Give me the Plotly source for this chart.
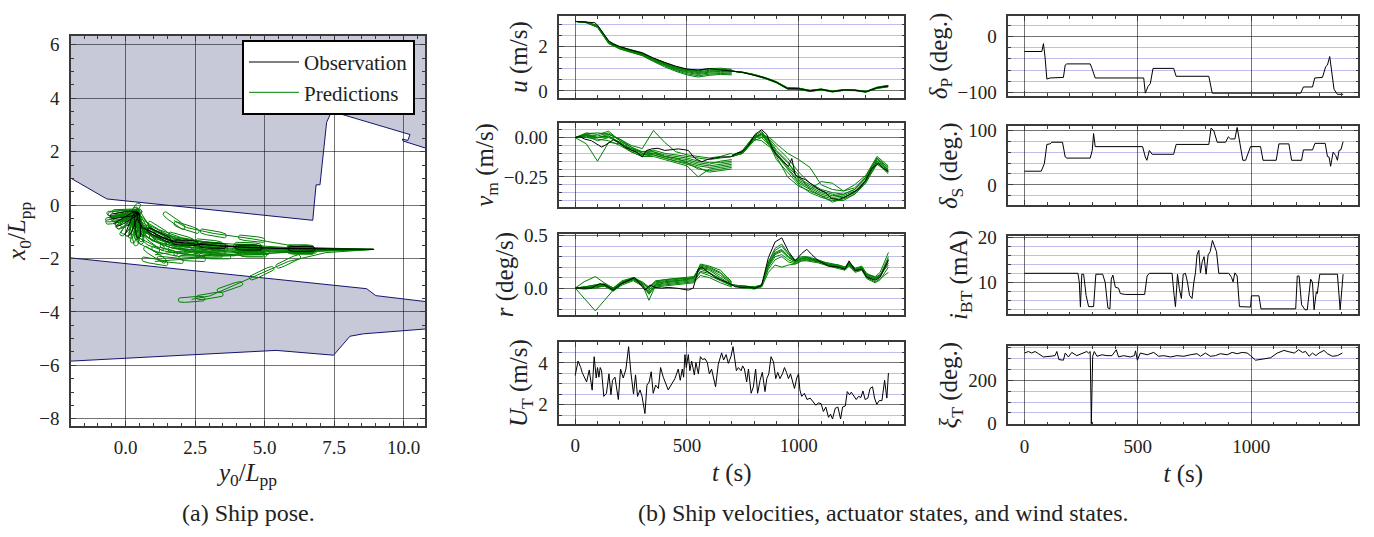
import numpy as np
import plotly.graph_objects as go

W, H = 1374, 537
FONT = "Liberation Serif"
GREEN = "#008000"
BLACK = "#000000"
FILL = "rgba(20,30,90,0.24)"
EDGE = "#14146e"
MAJOR_GRID = "rgba(0,0,0,0.55)"
MINOR_GRID = "rgba(70,70,200,0.35)"
AXIS_LINE = "#3a3a3a"
TEXT = "#222222"

# ---------------- (a) ship pose data (y0/Lpp, x0/Lpp) ----------------
quay_north_y0 = [-2.5, -0.68, 6.73, 6.85, 6.99, 7.23, 7.41, 10.23, 10.15, 9.96, 9.98, 11.5]
quay_north_x0 = [1.32, 0.23, -0.57, 0.76, 0.76, 3.10, 3.51, 2.64, 2.42, 2.47, 2.40, 1.90]
quay_south_top_y0 = [-2.5, 8.67, 9.0, 11.5]
quay_south_top_x0 = [-1.92, -3.13, -3.39, -3.70]
quay_south_bottom_y0 = [-2.5, 5.41, 7.48, 8.07, 8.55, 11.5]
quay_south_bottom_x0 = [-5.87, -5.44, -5.62, -4.91, -4.82, -4.58]

obs_track_y0 = [8.94, 7.5, 6.5, 5.5, 4.5, 3.5, 2.5, 1.71, 1.3, 0.94, 0.6, 0.45, 0.40]
obs_track_x0 = [-1.66, -1.65, -1.64, -1.62, -1.59, -1.54, -1.46, -1.37, -1.2, -1.0, -0.85, -0.6, -0.30]
obs_hull_y0 = [6.33, 4.43, 3.13, 2.13, 1.20, 0.43, 0.22, 0.04, -0.08]
obs_hull_x0 = [-1.64, -1.59, -1.52, -1.41, -1.12, -0.75, -0.72, -0.51, -0.36]
obs_hull_angle = [179, 178, 177, 176, 152, 93, 67, 30, 7]

# predicted pose runs: (y0, x0, hull angle in plot degrees or None for path-only point)
pred_a = [(8.9, -1.66, None), (6.3, -1.58, 178), (4.53, -1.26, 172), (3.15, -1.06, 168), (2.19, -0.84, 160), (1.74, -0.58, 142)]
pred_b = [(8.9, -1.66, None), (7.2, -1.78, None), (5.85, -2.11, 25), (4.89, -2.55, 25), (3.75, -3.07, 18), (3.03, -3.40, 8), (2.37, -3.53, 3)]
pred_c = [(8.9, -1.66, None), (6.3, -1.75, 178), (4.5, -1.82, 178), (3.0, -1.88, 177), (2.39, -2.0, 175), (1.6, -2.05, 172), (1.05, -2.11, 168)]
pred_d = [(8.9, -1.66, None), (6.3, -1.70, 179), (4.4, -1.74, 177), (3.1, -1.76, 176), (2.0, -1.72, 172), (1.05, -1.86, 145)]
pred_e = [(8.9, -1.66, None), (6.3, -1.66, 179), (4.4, -1.64, 178), (3.1, -1.58, 176), (2.0, -1.45, 170), (1.1, -1.12, 150), (0.5, -0.7, 110), (0.2, -0.5, 40)]
pred_f = [(8.9, -1.66, None), (6.35, -1.68, 180), (4.5, -1.66, 178), (3.2, -1.63, 177), (2.2, -1.56, 174), (1.3, -1.32, 160), (0.7, -0.98, 135), (0.3, -0.65, 75), (0.0, -0.45, 20)]
pred_g = [(8.9, -1.66, None), (6.3, -1.62, 179), (4.4, -1.50, 176), (3.0, -1.40, 172), (2.0, -1.22, 162), (1.2, -0.92, 145), (0.6, -0.55, 120), (0.1, -0.3, 10)]
pred_h = [(8.9, -1.66, None), (6.3, -1.72, 178), (4.6, -1.85, 178), (3.3, -1.92, 178), (2.2, -1.86, 174), (1.4, -1.72, 165), (0.8, -1.5, 150), (0.3, -1.05, 100)]
pred_i = [(8.9, -1.66, None), (6.3, -1.64, 180), (4.5, -1.60, 178), (3.2, -1.50, 175), (2.3, -1.40, 170), (1.5, -1.20, 158), (0.8, -0.85, 125), (0.35, -0.55, 88), (-0.1, -0.42, 8)]
pred_j = [(8.9, -1.66, None), (6.2, -1.69, 179), (4.3, -1.70, 178), (2.9, -1.66, 176), (1.9, -1.55, 168), (1.05, -1.25, 150), (0.5, -0.9, 100), (0.1, -0.62, 30), (-0.25, -0.55, 12)]
pred_k = [(8.9, -1.66, None), (6.4, -1.71, 179), (4.7, -1.76, 178), (3.5, -1.80, 177), (2.6, -1.78, 174), (1.7, -1.62, 165), (1.0, -1.35, 140), (0.45, -1.0, 105), (0.1, -0.75, 55)]
pred_l = [(8.9, -1.66, None), (6.25, -1.63, 180), (4.35, -1.56, 177), (2.95, -1.47, 173), (1.95, -1.32, 165), (1.15, -1.02, 150), (0.55, -0.62, 115), (0.25, -0.35, 60), (-0.2, -0.3, 2)]
pred_runs = [pred_a, pred_b, pred_c, pred_d, pred_e, pred_f, pred_g, pred_h, pred_i, pred_j, pred_k, pred_l]
fan_y0 = [-0.15, -0.05, 0.05, 0.15, 0.28, 0.40, 0.50, -0.25, 0.0, 0.32]
fan_x0 = [-0.30, -0.42, -0.58, -0.68, -0.78, -0.82, -0.70, -0.48, -0.25, -0.95]
fan_angle = [5, 18, 35, 55, 75, 90, 100, 10, 0, 80]

# ---------------- (b) time series ----------------
u_obs_t = [0, 50, 88, 100, 125, 150, 170, 200, 250, 300, 350, 400, 450, 500, 550, 600, 650, 700,
           750, 800, 850, 900, 950, 1000, 1050, 1100, 1150, 1200, 1250, 1300, 1350, 1400]
u_obs = [3.12, 3.09, 3.06, 2.95, 2.59, 2.25, 2.09, 1.99, 1.83, 1.70, 1.47, 1.28, 1.11, 0.98, 0.94, 1.0, 0.96, 0.89,
         0.83, 0.72, 0.58, 0.39, 0.10, 0.10, 0.0, 0.07, -0.03, 0.04, 0.03, -0.04, 0.14, 0.22]
t_pred_a = [0, 50, 100, 150, 200, 250, 300, 350, 400, 450, 500, 550, 600, 650, 700]
t_pred_b = [700, 750, 800, 850, 900, 950, 1000, 1050, 1100, 1150, 1200, 1250, 1300, 1350, 1400]
u_pred_a = [
    [3.12, 3.09, 2.92, 2.20, 1.94, 1.80, 1.66, 1.42, 1.22, 1.04, 0.92, 0.86, 0.92, 0.93, 0.90],
    [3.12, 3.07, 2.88, 2.16, 1.90, 1.76, 1.62, 1.37, 1.15, 0.96, 0.82, 0.74, 0.80, 0.82, 0.80],
    [3.12, 3.08, 2.90, 2.20, 1.96, 1.84, 1.70, 1.45, 1.24, 1.06, 0.94, 0.90, 0.97, 0.98, 0.94],
    [3.12, 3.06, 2.85, 2.12, 1.88, 1.74, 1.58, 1.32, 1.08, 0.88, 0.72, 0.62, 0.70, 0.74, 0.72],
    [3.12, 3.09, 2.94, 2.24, 1.98, 1.85, 1.72, 1.47, 1.26, 1.08, 0.97, 0.93, 1.00, 1.02, 0.97],
    [3.12, 3.07, 2.87, 2.14, 1.92, 1.78, 1.64, 1.40, 1.18, 0.98, 0.86, 0.78, 0.84, 0.88, 0.84],
    [3.12, 3.08, 2.89, 2.18, 1.93, 1.79, 1.65, 1.41, 1.20, 1.01, 0.90, 0.82, 0.88, 0.90, 0.87],
    [3.12, 3.06, 2.86, 2.14, 1.89, 1.75, 1.60, 1.34, 1.12, 0.92, 0.77, 0.68, 0.75, 0.78, 0.76],
]
u_pred_b = [
    [0.89, 0.84, 0.74, 0.60, 0.42, 0.13, 0.12, 0.03, 0.08, 0.0, 0.05, 0.05, -0.02, 0.16, 0.24],
    [0.89, 0.82, 0.71, 0.56, 0.37, 0.08, 0.08, -0.02, 0.05, -0.05, 0.02, 0.01, -0.06, 0.12, 0.19],
    [0.89, 0.83, 0.73, 0.59, 0.40, 0.15, 0.13, 0.02, 0.09, -0.01, 0.06, 0.04, -0.03, 0.17, 0.25],
    [0.89, 0.82, 0.70, 0.55, 0.36, 0.09, 0.07, -0.03, 0.04, -0.04, 0.02, 0.02, -0.05, 0.11, 0.18],
    [0.89, 0.84, 0.73, 0.58, 0.38, 0.12, 0.11, 0.01, 0.07, -0.02, 0.04, 0.03, -0.04, 0.14, 0.21],
    [0.89, 0.83, 0.72, 0.57, 0.39, 0.11, 0.09, 0.0, 0.06, -0.03, 0.03, 0.03, -0.04, 0.13, 0.20],
]

vm_obs_t = [0, 21, 43, 73, 103, 118, 133, 148, 170, 193, 222, 252, 275, 300, 319, 342, 370, 401, 431, 461,
            491, 506, 536, 566, 596, 625, 655, 695, 722, 745, 775, 804, 834, 857, 879, 901, 931, 954, 969, 984,
            1006, 1028, 1058, 1088, 1118, 1148, 1178, 1207, 1237, 1267, 1297, 1327, 1357, 1379, 1401]
vm_obs = [0.0, 0.006, -0.01, -0.02, -0.047, -0.06, -0.05, -0.035, -0.014, -0.03, -0.06, -0.08, -0.092, -0.123, -0.082,
          -0.072, -0.068, -0.082, -0.076, -0.072, -0.078, -0.082, -0.133, -0.154, -0.137, -0.129, -0.123, -0.123, -0.1,
          -0.092, -0.05, 0.02, 0.05, 0.02, -0.06, -0.113, -0.154, -0.184, -0.133, -0.236, -0.256, -0.266, -0.297,
          -0.328, -0.348, -0.389, -0.395, -0.379, -0.354, -0.328, -0.277, -0.195, -0.164, -0.195, -0.215]
vm_pred_a = [
    [0.0, 0.02, 0.01, 0.03, -0.02, -0.07, -0.10, -0.09, -0.11, -0.12, -0.13, -0.15, -0.16, -0.16, -0.15],
    [0.0, 0.01, -0.02, 0.0, -0.03, -0.08, -0.11, -0.10, -0.12, -0.14, -0.15, -0.17, -0.18, -0.17, -0.16],
    [0.0, -0.04, -0.15, -0.03, -0.04, -0.07, -0.09, -0.08, -0.10, -0.11, -0.12, -0.13, -0.14, -0.13, -0.12],
    [0.0, 0.02, 0.0, 0.02, -0.01, -0.05, -0.07, 0.045, -0.03, -0.09, -0.11, -0.12, -0.13, -0.12, -0.10],
    [0.0, 0.0, -0.01, -0.02, -0.05, -0.09, -0.12, -0.12, -0.14, -0.16, -0.18, -0.25, -0.20, -0.19, -0.18],
    [0.0, 0.03, 0.02, 0.04, -0.02, -0.06, -0.10, -0.11, -0.13, -0.15, -0.17, -0.19, -0.22, -0.21, -0.20],
    [0.0, 0.015, 0.0, 0.01, -0.03, -0.08, -0.11, -0.10, -0.12, -0.13, -0.14, -0.16, -0.17, -0.15, -0.14],
    [0.0, 0.025, 0.03, 0.02, -0.01, -0.06, -0.09, -0.09, -0.12, -0.13, -0.16, -0.18, -0.19, -0.18, -0.17],
    [0.0, 0.01, 0.0, 0.01, -0.04, -0.09, -0.12, -0.11, -0.13, -0.15, -0.16, -0.20, -0.21, -0.20, -0.19],
]
t_vm_pred_b = [700, 750, 800, 834, 870, 900, 950, 1000, 1050, 1100, 1150, 1200, 1250, 1300, 1350, 1400]
vm_pred_b = [
    [-0.12, -0.09, 0.0, 0.03, -0.02, -0.08, -0.15, -0.27, -0.31, -0.35, -0.37, -0.36, -0.33, -0.26, -0.15, -0.20],
    [-0.12, -0.08, 0.01, 0.02, 0.0, -0.04, -0.10, -0.14, -0.19, -0.30, -0.33, -0.34, -0.30, -0.24, -0.12, -0.18],
    [-0.12, -0.10, -0.02, 0.0, -0.05, -0.14, -0.22, -0.30, -0.35, -0.38, -0.40, -0.40, -0.36, -0.28, -0.17, -0.22],
    [-0.11, -0.09, -0.01, -0.02, -0.06, -0.10, -0.18, -0.26, -0.30, -0.34, -0.36, -0.38, -0.35, -0.27, -0.14, -0.19],
    [-0.12, -0.09, 0.01, 0.04, -0.03, -0.09, -0.16, -0.24, -0.33, -0.28, -0.29, -0.34, -0.32, -0.25, -0.13, -0.21],
    [-0.12, -0.10, -0.01, 0.02, -0.05, -0.12, -0.25, -0.31, -0.34, -0.37, -0.41, -0.39, -0.36, -0.29, -0.16, -0.23],
    [-0.12, -0.09, 0.0, 0.02, -0.04, -0.10, -0.19, -0.28, -0.32, -0.36, -0.38, -0.37, -0.34, -0.27, -0.15, -0.21],
    [-0.12, -0.08, 0.01, 0.01, -0.01, -0.06, -0.13, -0.22, -0.29, -0.33, -0.35, -0.36, -0.33, -0.25, -0.13, -0.19],
    [-0.12, -0.10, -0.01, 0.03, -0.04, -0.11, -0.20, -0.29, -0.33, -0.37, -0.39, -0.38, -0.35, -0.28, -0.16, -0.22],
]

r_obs_t = [0, 73, 110, 133, 170, 207, 267, 290, 312, 334, 357, 387, 416, 461, 506, 528, 551, 566, 596, 625,
           655, 686, 716, 745, 775, 804, 834, 864, 894, 924, 954, 984, 1013, 1036, 1058, 1088, 1133, 1178, 1207, 1225,
           1252, 1282, 1304, 1342, 1364, 1401]
r_obs = [0, 0, 0.043, 0.03, -0.02, 0.043, 0.1, 0.043, -0.02, 0.03, 0.006, 0.0, 0.006, -0.003, -0.02, 0.0, 0.18, 0.2,
         0.15, 0.104, 0.074, 0.05, 0.012, 0.006, 0.012, -0.003, 0.028, 0.29, 0.44, 0.48, 0.35, 0.26, 0.33, 0.37, 0.32,
         0.26, 0.21, 0.2, 0.18, 0.26, 0.166, 0.18, 0.104, 0.074, 0.104, 0.27]
t_r_pred_a = [0, 40, 90, 130, 170, 210, 260, 300, 330, 360, 400, 450, 500, 530, 560, 600, 650, 700]
r_pred_a = [
    [0, -0.10, -0.218, -0.12, -0.02, 0.04, 0.09, 0.03, -0.05, 0.04, 0.06, 0.07, 0.08, 0.10, 0.22, 0.20, 0.15, 0.05],
    [0, 0.06, 0.11, 0.05, 0.0, 0.05, 0.10, 0.04, -0.117, 0.03, 0.05, 0.06, 0.07, 0.08, 0.23, 0.21, 0.17, 0.06],
    [0, 0.01, 0.03, 0.03, -0.01, 0.06, 0.09, 0.05, 0.0, 0.06, 0.07, 0.08, 0.09, 0.10, 0.18, 0.15, 0.08, 0.03],
    [0, -0.01, 0.0, 0.02, -0.02, 0.05, 0.08, 0.03, -0.06, 0.02, 0.03, 0.04, 0.05, 0.06, 0.15, 0.12, 0.07, 0.02],
    [0, 0.0, 0.02, 0.04, 0.0, 0.07, 0.10, 0.06, 0.01, 0.07, 0.08, 0.09, 0.10, 0.11, 0.20, 0.18, 0.12, 0.04],
    [0, 0.01, 0.01, 0.02, -0.03, 0.03, 0.07, 0.02, -0.03, 0.01, 0.02, 0.03, 0.04, 0.05, 0.12, 0.10, 0.05, 0.01],
    [0, 0.005, 0.02, 0.03, -0.01, 0.05, 0.09, 0.04, -0.02, 0.05, 0.06, 0.07, 0.08, 0.09, 0.19, 0.17, 0.10, 0.03],
    [0, -0.005, 0.01, 0.02, -0.02, 0.04, 0.08, 0.03, -0.04, 0.03, 0.04, 0.05, 0.06, 0.07, 0.16, 0.14, 0.09, 0.02],
    [0, 0.01, 0.03, 0.04, 0.0, 0.06, 0.10, 0.05, 0.0, 0.06, 0.08, 0.09, 0.09, 0.10, 0.21, 0.19, 0.14, 0.04],
]
t_r_pred_b = [700, 750, 800, 834, 864, 894, 924, 954, 984, 1013, 1036, 1058, 1088, 1133, 1178, 1207, 1225, 1252,
              1282, 1304, 1342, 1364, 1401]
r_pred_b = [
    [0.03, 0.01, 0.0, 0.02, 0.25, 0.38, 0.42, 0.33, 0.27, 0.3, 0.3, 0.29, 0.27, 0.23, 0.21, 0.19, 0.24, 0.17, 0.19, 0.12, 0.09, 0.12, 0.3],
    [0.03, 0.02, 0.01, 0.03, 0.2, 0.3, 0.32, 0.27, 0.24, 0.27, 0.27, 0.26, 0.25, 0.22, 0.2, 0.19, 0.23, 0.18, 0.2, 0.14, 0.1, 0.13, 0.22],
    [0.03, 0.01, -0.01, 0.01, 0.15, 0.22, 0.2, 0.22, 0.23, 0.26, 0.27, 0.27, 0.26, 0.24, 0.22, 0.2, 0.25, 0.19, 0.21, 0.13, 0.11, 0.15, 0.34],
    [0.03, 0.0, 0.0, 0.02, 0.22, 0.34, 0.37, 0.3, 0.25, 0.28, 0.29, 0.28, 0.26, 0.22, 0.21, 0.18, 0.22, 0.16, 0.18, 0.1, 0.06, 0.09, 0.15],
    [0.03, 0.01, 0.0, 0.03, 0.18, 0.27, 0.3, 0.25, 0.23, 0.26, 0.26, 0.25, 0.24, 0.21, 0.19, 0.17, 0.21, 0.15, 0.17, 0.09, 0.05, 0.08, 0.2],
    [0.03, 0.02, 0.01, 0.02, 0.24, 0.36, 0.4, 0.32, 0.26, 0.29, 0.29, 0.28, 0.26, 0.23, 0.22, 0.2, 0.24, 0.18, 0.2, 0.13, 0.1, 0.12, 0.26],
    [0.03, 0.01, 0.0, 0.02, 0.21, 0.32, 0.35, 0.29, 0.25, 0.28, 0.28, 0.27, 0.25, 0.22, 0.2, 0.18, 0.23, 0.17, 0.19, 0.11, 0.08, 0.11, 0.24],
    [0.03, 0.02, 0.01, 0.03, 0.23, 0.33, 0.36, 0.3, 0.26, 0.28, 0.29, 0.28, 0.26, 0.23, 0.21, 0.19, 0.24, 0.17, 0.19, 0.12, 0.09, 0.11, 0.28],
]

ut_t = [0, 13, 25, 31, 51, 63, 76, 85, 94, 100, 106, 112, 118, 128, 140, 151, 160, 167, 178, 193,
        203, 215, 227, 239, 249, 261, 270, 279, 290, 299, 312, 321, 331, 340, 349, 360, 372, 382, 394, 416,
        446, 461, 470, 479, 485, 491, 497, 506, 513, 521, 533, 540, 551, 560, 569, 581, 591, 600, 610, 628,
        640, 655, 664, 675, 685, 697, 706, 721, 730, 742, 749, 757, 767, 775, 787, 797, 807, 816, 827, 837,
        849, 857, 866, 876, 887, 897, 906, 916, 927, 936, 945, 954, 963, 973, 981, 991, 999, 1005, 1013, 1025,
        1037, 1051, 1066, 1076, 1088, 1100, 1110, 1121, 1133, 1142, 1151, 1163, 1175, 1187, 1196, 1208, 1217, 1227, 1235, 1248,
        1257, 1267, 1278, 1287, 1297, 1309, 1319, 1330, 1339, 1349, 1360, 1372, 1384, 1394, 1401]
ut = [3.4, 4.09, 3.78, 3.55, 3.09, 3.66, 2.7, 4.3, 3.28, 3.78, 3.32, 3.78, 3.63, 2.4, 2.55, 3.48, 2.48, 3.17, 3.32, 2.25,
      3.71, 3.28, 3.71, 4.78, 3.55, 2.51, 3.43, 2.4, 2.71, 2.4, 1.58, 2.94, 3.09, 3.58, 2.55, 2.94, 2.78, 3.78, 3.32, 2.71,
      3.25, 3.71, 3.17, 3.71, 3.32, 4.4, 3.78, 4.4, 3.63, 4.09, 3.43, 4.02, 3.48, 4.3, 4.17, 4.2, 4.02, 3.48, 3.71, 2.86,
      3.94, 4.48, 4.14, 4.4, 3.98, 4.32, 4.78, 3.63, 3.78, 3.63, 3.86, 3.71, 3.09, 3.71, 2.55, 2.86, 3.71, 2.55, 3.17, 3.55,
      2.63, 3.25, 3.48, 4.3, 4.05, 3.25, 3.55, 3.25, 3.48, 3.78, 3.55, 3.25, 3.48, 3.09, 2.78, 3.28, 3.48, 2.71, 2.4, 2.55,
      2.25, 2.32, 2.09, 1.98, 2.09, 2.05, 1.68, 1.89, 1.4, 1.55, 1.32, 1.83, 1.89, 1.32, 1.89, 1.94, 2.63, 2.48, 2.6, 2.4,
      2.25, 2.4, 2.35, 2.66, 2.25, 2.32, 2.78, 2.86, 2.32, 2.02, 2.2, 2.2, 3.17, 2.32, 3.52]

dp_t = [0, 77, 84, 91, 99, 113, 172, 180, 187, 290, 298, 312, 526, 533, 545, 555, 567, 658, 669, 813,
        828, 1218, 1230, 1270, 1280, 1314, 1328, 1336, 1346, 1358, 1365, 1380, 1405]
dp = [-27, -27, -13, -37, -76, -74, -73, -51, -49, -49, -57, -74, -74, -101, -89, -84, -57, -57, -71, -71,
      -101, -101, -90, -90, -74, -73, -54, -51, -36, -77, -94, -103, -103]

ds_t = [0, 74, 88, 99, 113, 121, 168, 180, 187, 290, 299, 305, 312, 521, 533, 540, 551, 563, 658, 669,
        813, 823, 835, 850, 887, 899, 909, 928, 938, 948, 963, 975, 997, 1041, 1052, 1110, 1122, 1166, 1178, 1222,
        1230, 1270, 1281, 1326, 1336, 1343, 1350, 1361, 1372, 1380, 1387, 1395, 1405]
ds = [25, 25, 39, 74, 75, 78, 78, 51, 49, 49, 63, 94, 70, 70, 51, 45, 63, 56, 56, 74,
      74, 104, 99, 78, 78, 88, 84, 84, 105, 79, 45, 45, 70, 70, 45, 45, 75, 75, 45, 45,
      64, 64, 76, 76, 52, 51, 34, 60, 54, 45, 63, 64, 79]

ibt_t = [0, 236, 242, 247, 253, 261, 272, 283, 305, 315, 345, 356, 368, 377, 383, 390, 401, 415, 423, 445,
         530, 541, 551, 651, 660, 666, 675, 683, 692, 700, 710, 719, 728, 739, 747, 754, 761, 769, 776, 784,
         792, 801, 810, 819, 829, 838, 847, 857, 901, 913, 920, 928, 938, 948, 982, 997, 1001, 1034, 1043, 1196,
         1203, 1211, 1222, 1237, 1247, 1262, 1270, 1277, 1287, 1291, 1302, 1380, 1392, 1405]
ibt = [12, 12, 10, 4.5, 11.8, 11.8, 7.1, 4.6, 4.6, 11.8, 11.8, 10, 4.3, 4.1, 10.7, 11.6, 8.9, 8.7, 7.5, 7.3,
       7.3, 11.4, 12, 12, 7.1, 4.6, 11.8, 8.6, 6.4, 11.8, 12, 10, 7.1, 6.4, 10, 12.1, 16.1, 17.1, 12.1, 14.6,
       15.7, 11.8, 16.1, 16.8, 19.3, 18.2, 16.8, 12, 12, 11.1, 10.1, 12.1, 11.4, 4.6, 4.5, 4.5, 7, 7, 4.1, 4.1,
       11.4, 11.4, 5, 3.9, 3.9, 10.7, 10, 3.9, 7.9, 7.5, 11.8, 11.8, 3.9, 11.8]

xi_t = [0, 18, 32, 47, 62, 84, 113, 135, 143, 152, 172, 180, 194, 209, 231, 253, 275, 283, 290, 295,
        301, 308, 320, 342, 364, 386, 405, 415, 437, 467, 485, 490, 498, 511, 541, 570, 592, 614, 644, 673,
        703, 732, 761, 776, 798, 820, 842, 864, 894, 916, 938, 960, 982, 997, 1019, 1056, 1085, 1115, 1144, 1166,
        1190, 1209, 1226, 1240, 1255, 1270, 1285, 1299, 1321, 1336, 1358, 1380, 1402]
xi = [326, 333, 326, 333, 323, 308, 311, 314, 333, 296, 293, 326, 308, 329, 314, 323, 333, 326, 333, 0,
      311, 333, 311, 318, 314, 314, 341, 308, 314, 308, 314, 336, 293, 326, 318, 329, 311, 314, 308, 314,
      311, 318, 323, 311, 326, 311, 314, 323, 318, 329, 323, 329, 326, 314, 293, 299, 304, 326, 338, 332,
      326, 341, 329, 333, 311, 326, 314, 326, 338, 323, 311, 314, 326]


# ---------------- helpers ----------------
def dom_y(top_px, bottom_px):
    return [1 - bottom_px / H, 1 - top_px / H]


def dom_x(left_px, right_px):
    return [left_px / W, right_px / W]


def hull_outline(cy, cx, ang_deg, length=0.95, beam=0.2, n=40):
    t = np.linspace(0, 2 * np.pi, n + 1)
    c, s = np.cos(t), np.sin(t)
    lx = 0.5 * length * np.sign(c) * np.abs(c) ** 0.5
    ly = 0.5 * beam * np.sign(s) * np.abs(s) ** 0.5
    a = np.radians(ang_deg)
    return cy + lx * np.cos(a) - ly * np.sin(a), cx + lx * np.sin(a) + ly * np.cos(a)


def hull_traces(ys, xs, angs):
    X, Y = [], []
    for cy, cx, a in zip(ys, xs, angs):
        if a is None:
            continue
        hx, hy = hull_outline(cy, cx, a)
        X += list(hx) + [None]
        Y += list(hy) + [None]
    return X, Y


fig = go.Figure()

# ---- (a) harbour ----
fig.add_trace(go.Scatter(x=quay_north_y0 + [11.5, -2.5], y=quay_north_x0 + [8, 8], fill="toself",
                         fillcolor=FILL, mode="lines", line=dict(color=EDGE, width=1),
                         showlegend=False, hoverinfo="skip"))
fig.add_trace(go.Scatter(x=quay_south_top_y0 + quay_south_bottom_y0[::-1],
                         y=quay_south_top_x0 + quay_south_bottom_x0[::-1], fill="toself",
                         fillcolor=FILL, mode="lines", line=dict(color=EDGE, width=1),
                         showlegend=False, hoverinfo="skip"))

# predictions (green)
first = True
for run in pred_runs:
    ry = [p[0] for p in run]
    rx = [p[1] for p in run]
    ra = [p[2] for p in run]
    fig.add_trace(go.Scatter(x=ry, y=rx, mode="lines", line=dict(color=GREEN, width=1),
                             name="Predictions", legendrank=2, showlegend=first, legendgroup="pred",
                             hoverinfo="skip"))
    first = False
    hx, hy = hull_traces(ry, rx, ra)
    fig.add_trace(go.Scatter(x=hx, y=hy, mode="lines", line=dict(color=GREEN, width=1),
                             showlegend=False, legendgroup="pred", hoverinfo="skip"))
hx, hy = hull_traces(fan_y0, fan_x0, fan_angle)
fig.add_trace(go.Scatter(x=hx, y=hy, mode="lines", line=dict(color=GREEN, width=1),
                         showlegend=False, legendgroup="pred", hoverinfo="skip"))

# observation (black)
fig.add_trace(go.Scatter(x=obs_track_y0, y=obs_track_x0, mode="lines", line=dict(color=BLACK, width=1.2),
                         name="Observation", legendrank=1, legendgroup="obs", hoverinfo="skip"))
hx, hy = hull_traces(obs_hull_y0, obs_hull_x0, obs_hull_angle)
fig.add_trace(go.Scatter(x=hx, y=hy, mode="lines", line=dict(color=BLACK, width=1),
                         showlegend=False, legendgroup="obs", hoverinfo="skip"))


# ---- (b) time series ----
def add_ensemble(xa, ya, t, members):
    X, Y = [], []
    for m in members:
        X += list(t) + [None]
        Y += list(m) + [None]
    fig.add_trace(go.Scatter(x=X, y=Y, mode="lines", line=dict(color=GREEN, width=1),
                             xaxis=xa, yaxis=ya, showlegend=False, hoverinfo="skip"))


def add_obs(xa, ya, t, v):
    fig.add_trace(go.Scatter(x=t, y=v, mode="lines", line=dict(color=BLACK, width=1),
                             xaxis=xa, yaxis=ya, showlegend=False, hoverinfo="skip"))


add_ensemble("x2", "y2", t_pred_a, u_pred_a)
add_ensemble("x2", "y2", t_pred_b, u_pred_b)
add_obs("x2", "y2", u_obs_t, u_obs)
add_ensemble("x3", "y3", t_pred_a, vm_pred_a)
add_ensemble("x3", "y3", t_vm_pred_b, vm_pred_b)
add_obs("x3", "y3", vm_obs_t, vm_obs)
add_ensemble("x4", "y4", t_r_pred_a, r_pred_a)
add_ensemble("x4", "y4", t_r_pred_b, r_pred_b)
add_obs("x4", "y4", r_obs_t, r_obs)
add_obs("x5", "y5", ut_t, ut)
add_obs("x6", "y6", dp_t, dp)
add_obs("x7", "y7", ds_t, ds)
add_obs("x8", "y8", ibt_t, ibt)
add_obs("x9", "y9", xi_t, xi)

TICKFONT = dict(size=19, color=TEXT, family=FONT)
TITLEFONT = dict(size=25, color=TEXT, family=FONT)


def base_axis(**kw):
    d = dict(ticks="inside", ticklen=5, tickwidth=1, tickcolor=AXIS_LINE,
             showgrid=True, gridcolor=MAJOR_GRID, gridwidth=1, zeroline=False,
             showline=True, linecolor=AXIS_LINE, linewidth=1.5, mirror="allticks",
             tickfont=TICKFONT, tickmode="linear")
    d.update(kw)
    return d


layout_axes = {}
# left panel
layout_axes["xaxis"] = base_axis(domain=dom_x(71, 425), anchor="y", range=[-1.97, 10.77], tick0=0, dtick=2.5,
                                 tickformat=".1f", ticklabelstandoff=4,
                                 minor=dict(tickmode="linear", tick0=0, dtick=0.5, ticks="inside", ticklen=3,
                                            tickcolor=AXIS_LINE, showgrid=False),
                                 title=dict(text="<i>y</i><sub>0</sub>/<i>L</i><sub>pp</sub>", font=TITLEFONT,
                                            standoff=6))
layout_axes["yaxis"] = base_axis(domain=dom_y(28, 432), anchor="x", range=[-8.26, 6.33], tick0=0, dtick=2,
                                 ticklabelstandoff=6,
                                 minor=dict(tickmode="linear", tick0=0, dtick=0.5, ticks="inside", ticklen=3,
                                            tickcolor=AXIS_LINE, showgrid=False),
                                 title=dict(text="<i>x</i><sub>0</sub>/<i>L</i><sub>pp</sub>", font=TITLEFONT,
                                            standoff=6))

T_RANGE = [-71, 1472]
mid_rows = [(7.3, 92.3), (118.3, 205), (233.3, 317.3), (345.7, 430)]
right_rows = [(7.3, 90), (121.7, 203.3), (235, 316.7), (349.3, 430.7)]
mid_specs = [
    ([-0.32, 3.36], 2, 0.5, "", "<i>u</i> (m/s)"),
    ([-0.44, 0.092], 0.25, 0.05, ".2f", "<i>v</i><sub>m</sub> (m/s)"),
    ([-0.258, 0.516], 0.5, 0.1, ".1f", "<i>r</i> (deg/s)"),
    ([1.09, 4.98], 2, 0.5, "", "<i>U</i><sub>T</sub> (m/s)"),
]
right_specs = [
    ([-105.7, 36], 100, 20, "", "<i>δ</i><sub>P</sub> (deg.)"),
    ([-37, 107], 100, 20, "", "<i>δ</i><sub>S</sub> (deg.)"),
    ([2.85, 20.36], 10, 2, "", "<i>i</i><sub>BT</sub> (mA)"),
    ([-3, 358.7], 200, 50, "", "<i>ξ</i><sub>T</sub> (deg.)"),
]


def build_column(first_idx, xdom, rows, specs):
    for k, ((top, bot), (rng, dt, mdt, fmt, title)) in enumerate(zip(rows, specs)):
        i = first_idx + k
        last = k == len(rows) - 1
        layout_axes[f"xaxis{i}"] = base_axis(
            domain=xdom, anchor=f"y{i}", range=T_RANGE, tick0=0, dtick=500, showticklabels=last,
            ticklabelstandoff=4,
            minor=dict(tickmode="linear", tick0=0, dtick=100, ticks="inside", ticklen=3,
                       tickcolor=AXIS_LINE, showgrid=False),
            title=dict(text="<i>t</i> (s)" if last else "", font=TITLEFONT, standoff=8))
        layout_axes[f"yaxis{i}"] = base_axis(
            domain=dom_y(top, bot), anchor=f"x{i}", range=rng, tick0=0, dtick=dt, tickformat=fmt,
            ticklabelstandoff=6,
            minor=dict(tickmode="linear", tick0=0, dtick=mdt, ticks="inside", ticklen=3,
                       tickcolor=AXIS_LINE, showgrid=True, gridcolor=MINOR_GRID, gridwidth=1),
            title=dict(text=title, font=TITLEFONT, standoff=3))


build_column(2, dom_x(559.3, 904.3), mid_rows, mid_specs)
build_column(6, dom_x(1008.3, 1358.3), right_rows, right_specs)

fig.update_layout(
    width=W, height=H, margin=dict(l=0, r=0, t=0, b=0, pad=0),
    paper_bgcolor="white", plot_bgcolor="white",
    font=dict(family=FONT, size=18, color=TEXT),
    legend=dict(x=415 / W, xanchor="right", y=1 - 32 / H, yanchor="top", bgcolor="white",
                bordercolor="black", borderwidth=2, font=dict(size=21, family=FONT, color=TEXT),
                tracegroupgap=0, itemwidth=50),
    annotations=[
        dict(text="(a) Ship pose.", x=248 / W, y=1 - 523 / H, xref="paper", yref="paper",
             showarrow=False, xanchor="center", yanchor="middle", font=dict(size=24, family=FONT, color=TEXT)),
        dict(text="(b) Ship velocities, actuator states, and wind states.", x=883 / W, y=1 - 523 / H,
             xref="paper", yref="paper", showarrow=False, xanchor="center", yanchor="middle",
             font=dict(size=24, family=FONT, color=TEXT)),
    ],
    **layout_axes,
)

fig.write_html("out.html")
